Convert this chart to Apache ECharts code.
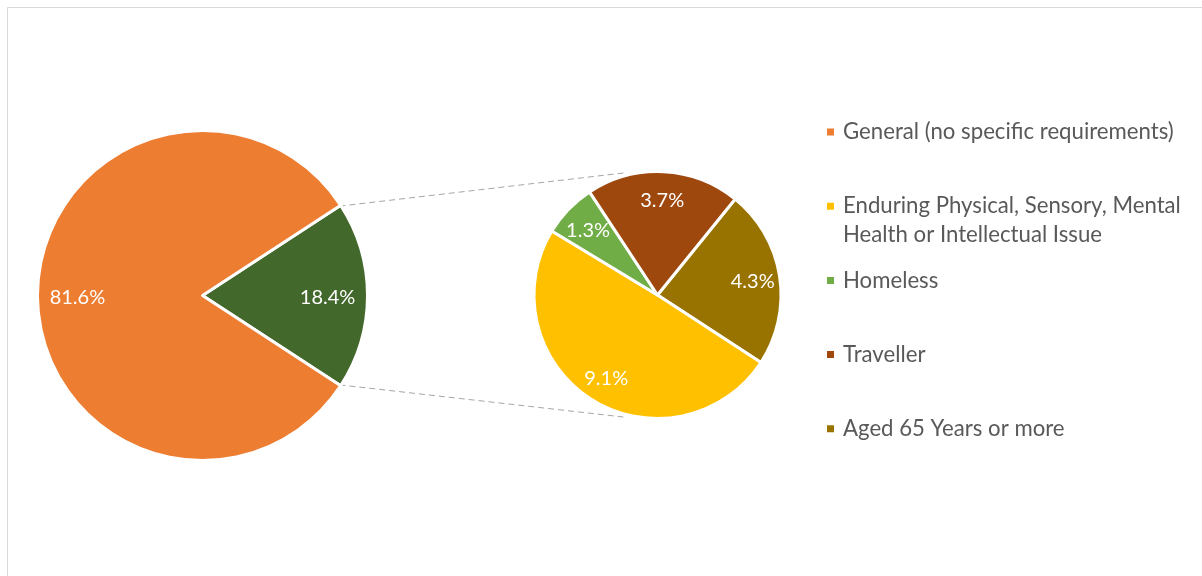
<!DOCTYPE html>
<html>
<head>
<meta charset="utf-8">
<script src="https://cdn.jsdelivr.net/npm/echarts@6/dist/echarts.min.js"></script>
<style>
  html, body { margin: 0; padding: 0; background: #fff; }
  #chart { width: 1202px; height: 576px; }
</style>
</head>
<body>
<div id="chart"></div>
<script>
  // 主饼图
  const mainNames = ['Other', 'General (no specific requirements)'];
  const mainValues = [18.4, 81.6];
  const mainColors = ['#43682B', '#ED7D31'];

  // 子饼图（顺时针顺序）
  const subNames = ['Aged 65 Years or more', 'Enduring Physical, Sensory, Mental Health or Intellectual Issue', 'Homeless', 'Traveller'];
  const subValues = [4.3, 9.1, 1.3, 3.7];
  const subColors = ['#997300', '#FFC000', '#70AD47', '#9E480E'];

  const legendNames = [
    'General (no specific requirements)',
    'Enduring Physical, Sensory, Mental Health or Intellectual Issue',
    'Homeless',
    'Traveller',
    'Aged 65 Years or more'
  ];

  const FONT = 'Lato';
  const c1 = [202.5, 295.5], r1 = 165;
  const c2 = [657.5, 295], r2 = 123.5;
  const border = 3;

  const sum = arr => arr.reduce((a, b) => a + b, 0);
  const mainStart = mainValues[0] / sum(mainValues) * 180;
  const subStart = 51;

  function midAngles(values, start) {
    const total = sum(values);
    let a = start;
    return values.map(v => {
      const span = v / total * 360;
      const m = a - span / 2;
      a -= span;
      return m;
    });
  }

  // 标签放在扇区中线上，距圆心 d
  function labelLayoutFor(values, start, c, d) {
    const mids = midAngles(values, start);
    return function (p) {
      const ang = mids[p.dataIndex] * Math.PI / 180;
      return {
        x: c[0] + d * Math.cos(ang),
        y: c[1] - d * Math.sin(ang) + 2,
        align: 'center',
        verticalAlign: 'middle'
      };
    };
  }

  const labelStyle = {
    show: true,
    position: 'inside',
    color: '#fff',
    fontFamily: FONT,
    fontSize: 20,
    formatter: p => p.value.toFixed(1) + '%'
  };

  // 连接线
  const ra = mainStart * Math.PI / 180;
  const vr1 = r1 - border / 2, vr2 = r2 - border / 2;
  const p0 = [c1[0] + vr1 * Math.cos(ra), c1[1] - vr1 * Math.sin(ra)];
  const p1 = [c1[0] + vr1 * Math.cos(ra), c1[1] + vr1 * Math.sin(ra)];
  const q0 = [c2[0] - 0.28 * vr2, c2[1] - vr2];
  const q1 = [c2[0] - 0.28 * vr2, c2[1] + vr2];
  const dashStyle = { stroke: '#A6A6A6', lineWidth: 1, lineDash: [6, 4] };

  const legends = legendNames.map((name, i) => {
    const multi = i === 1;
    const iconY = 132 + i * 74.2;
    return {
      orient: 'vertical',
      left: 825,
      top: iconY - (multi ? 43.5 : 14.5),
      padding: 0,
      data: [name],
      icon: 'rect',
      itemWidth: 9,
      itemHeight: 9,
      selectedMode: false,
      // 空首行让第一行文字与图标对齐
      formatter: multi ? '\nEnduring Physical, Sensory, Mental\nHealth or Intellectual Issue' : '{name}',
      textStyle: {
        fontFamily: FONT,
        fontSize: 22.2,
        color: '#595959',
        lineHeight: 29,
        padding: [0, 0, 0, 3]
      }
    };
  });

  const myChart = echarts.init(document.getElementById('chart'));
  const option = {
    animation: false,
    backgroundColor: '#fff',
    legend: legends,
    graphic: [
      { type: 'rect', shape: { x: 7.5, y: 7.5, width: 1400, height: 800 }, style: { fill: 'none', stroke: '#D9D9D9', lineWidth: 1 }, silent: true },
      { type: 'line', shape: { x1: p0[0], y1: p0[1], x2: q0[0], y2: q0[1] }, style: dashStyle, silent: true },
      { type: 'line', shape: { x1: p1[0], y1: p1[1], x2: q1[0], y2: q1[1] }, style: dashStyle, silent: true }
    ],
    series: [
      {
        name: 'main',
        type: 'pie',
        center: c1,
        radius: [0, r1],
        startAngle: mainStart,
        clockwise: true,
        avoidLabelOverlap: false,
        emphasis: { disabled: true },
        itemStyle: { borderColor: '#fff', borderWidth: border },
        label: labelStyle,
        labelLine: { show: false },
        labelLayout: labelLayoutFor(mainValues, mainStart, c1, 0.765 * vr1),
        data: mainNames.map((n, i) => ({ name: n, value: mainValues[i], itemStyle: { color: mainColors[i] } }))
      },
      {
        name: 'sub',
        type: 'pie',
        center: c2,
        radius: [0, r2],
        startAngle: subStart,
        clockwise: true,
        avoidLabelOverlap: false,
        emphasis: { disabled: true },
        itemStyle: { borderColor: '#fff', borderWidth: border },
        label: labelStyle,
        labelLine: { show: false },
        labelLayout: labelLayoutFor(subValues, subStart, c2, 0.79 * vr2),
        data: subNames.map((n, i) => ({ name: n, value: subValues[i], itemStyle: { color: subColors[i] } }))
      }
    ]
  };
  myChart.setOption(option);
</script>
</body>
</html>
